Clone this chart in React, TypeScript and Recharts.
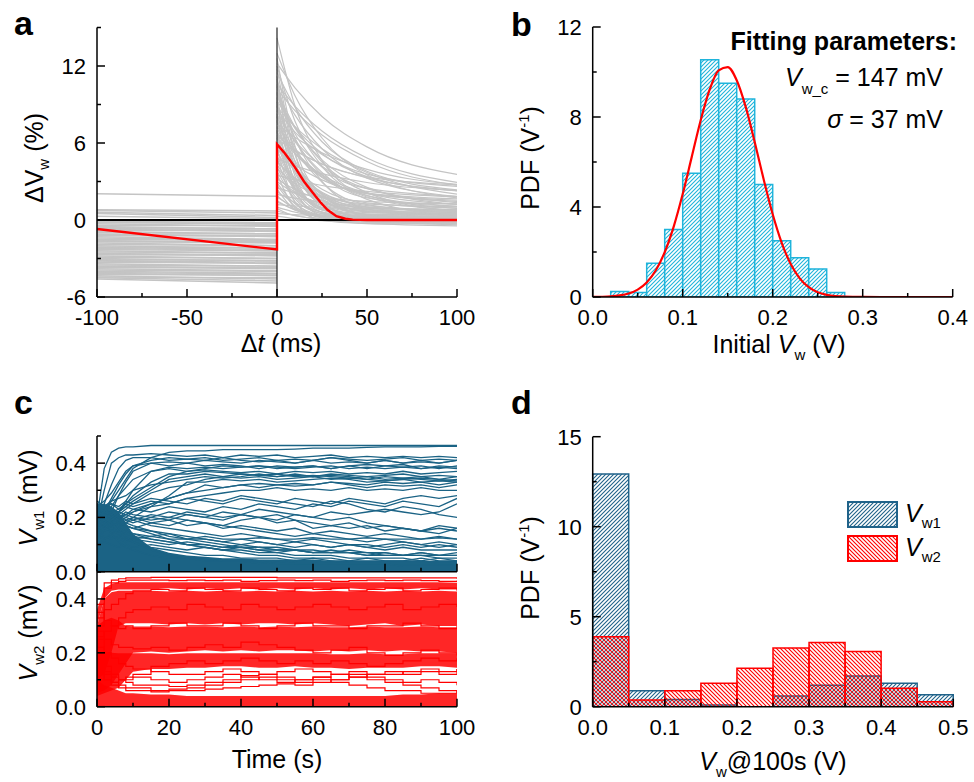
import React from "react";
import { ComposedChart, LineChart, Line, Bar, Area, XAxis, YAxis, ReferenceLine } from "recharts";

const W = 974;
const H = 782;
const FONT = '"Liberation Sans", Arial, Helvetica, sans-serif';
const YW = 60;
const XH = 40;

const GRAY = "#c4c4c4";
const RED = "#ff0000";
const CYAN = "#1fb4db";
const BLUE_C = "#1b6385";
const BLUE_D = "#1f6289";

// ---------- panel a : ΔVw vs Δt ----------
const aXTicks = [-100, -75, -50, -25, 0, 25, 50, 75, 100];
const aXLabels = [-100, -50, 0, 50, 100];
const aYTicks = [-6, -3, 0, 3, 6, 9, 12, 15];
const aYLabels = [-6, 0, 6, 12];

// [value at -100 ms, value at 0 ms]
const aLeftTraces = [
  [2.05, 1.85], [0.8, 0.7], [0.75, 0.55], [0.6, 0.35], [0.5, 0.2], [0.3, 0.1],
  [-0.1, -0.2], [-0.15, -0.35], [-0.2, -0.25], [-0.3, -0.5], [-0.4, -0.45], [-0.5, -0.7], [-0.6, -0.65],
  [-0.65, -0.8], [-0.7, -0.9], [-0.8, -0.85], [-0.9, -1.1], [-1.0, -1.05], [-1.1, -1.3], [-1.15, -1.2], [-1.2, -1.25],
  [-1.3, -1.5], [-1.4, -1.55], [-1.5, -1.6], [-1.6, -1.8], [-1.65, -1.7], [-1.7, -1.75], [-1.8, -2.0],
  [-1.9, -2.0], [-2.0, -2.2], [-2.1, -2.15], [-2.15, -2.3], [-2.2, -2.4], [-2.3, -2.4], [-2.4, -2.6],
  [-2.5, -2.55], [-2.6, -2.8], [-2.65, -2.7], [-2.7, -2.75], [-2.8, -3.0], [-2.9, -3.0], [-3.0, -3.2],
  [-3.1, -3.15], [-3.15, -3.3], [-3.2, -3.4], [-3.3, -3.35], [-3.4, -3.6], [-3.5, -3.6], [-3.6, -3.8],
  [-3.65, -3.7], [-3.7, -3.75], [-3.8, -3.95], [-3.9, -4.0], [-4.0, -4.15], [-4.1, -4.2], [-4.15, -4.35],
  [-4.25, -4.3], [-4.35, -4.6], [-4.45, -4.5], [-4.5, -4.75], [-4.6, -4.9],
];

const aRightTimes = [0, 10, 25, 50, 100];
const aRightTraces = [
  [14.2, 8.9, 4.65, 1.9, 0.9], [12.2, 10.3, 8.07, 5.7, 3.55], [12.0, 7.7, 4.2, 1.9, 1.07],
  [11.5, 8.8, 6.1, 3.8, 2.34], [11.0, 5.07, 1.81, 0.66, 0.5], [10.8, 8.17, 5.55, 3.26, 1.83],
  [10.5, 6.37, 3.01, 0.86, 0.07], [10.2, 8.52, 6.62, 4.56, 2.71], [10.0, 7.25, 4.52, 2.13, 0.65],
  [9.8, 6.34, 3.53, 1.72, 1.06], [9.5, 4.13, 1.19, 0.15, 0.0], [9.3, 7.23, 5.18, 3.38, 2.26],
  [9.0, 5.66, 2.94, 1.2, 0.56], [8.8, 7.28, 5.56, 3.7, 2.02], [8.5, 6.1, 3.7, 1.61, 0.31],
  [8.3, 4.06, 1.74, 0.92, 0.8], [8.0, 5.45, 3.37, 2.03, 1.54], [7.8, 4.62, 2.02, 0.36, -0.25],
  [7.5, 6.44, 5.24, 3.94, 2.77], [7.3, 5.38, 3.46, 1.79, 0.74], [7.0, 3.05, 0.88, 0.11, 0.0],
  [6.8, 5.16, 3.52, 2.1, 1.21], [6.5, 4.06, 2.08, 0.81, 0.34], [6.3, 5.4, 4.38, 3.28, 2.29],
  [6.0, 2.5, 0.58, -0.1, -0.2], [5.8, 3.8, 2.16, 1.12, 0.73], [5.5, 4.31, 3.13, 2.09, 1.45],
  [5.3, 3.22, 1.52, 0.43, 0.04], [5.0, 2.4, 0.98, 0.47, 0.4], [4.8, 4.24, 3.61, 2.92, 2.3],
  [4.5, 3.28, 2.07, 1.01, 0.35], [4.3, 2.45, 0.95, -0.01, -0.37], [4.0, 2.82, 1.86, 1.25, 1.02],
  [3.8, 1.65, 0.48, 0.06, 0.0], [3.5, 3.12, 2.69, 2.23, 1.8], [3.2, 2.38, 1.56, 0.85, 0.4],
  [3.0, 2.06, 1.29, 0.8, 0.62], [2.7, 1.06, 0.16, -0.15, -0.2], [2.5, 2.13, 1.77, 1.45, 1.25],
  [2.2, 1.34, 0.63, 0.18, 0.01], [2.0, 1.7, 1.36, 0.99, 0.66], [1.8, 0.97, 0.3, -0.13, -0.29],
  [1.5, 0.77, 0.36, 0.22, 0.2], [1.2, 1.09, 0.97, 0.88, 0.81], [1.0, 0.61, 0.29, 0.08, 0.0],
  [0.7, 0.36, 0.02, -0.27, -0.46], [0.5, 0.42, 0.36, 0.32, 0.3], [0.3, 0.1, -0.06, -0.16, -0.2],
  [13.0, 9.69, 6.39, 3.51, 1.72], [11.8, 5.25, 1.65, 0.38, 0.2], [10.6, 8.88, 6.94, 4.83, 2.93],
  [9.6, 7.14, 4.68, 2.54, 1.21], [8.6, 6.85, 5.1, 3.57, 2.62], [7.6, 5.24, 3.32, 2.09, 1.64],
  [6.6, 5.47, 4.34, 3.36, 2.74],
  [11.2, 3.43, 0.78, 0.32, 0.3], [10.4, 4.52, 1.3, 0.16, 0.0], [9.2, 2.93, 0.79, 0.42, 0.4],
  [8.9, 3.93, 1.2, 0.24, 0.1], [8.1, 2.32, 0.36, 0.02, 0.0], [7.7, 3.69, 1.49, 0.71, 0.6],
  [7.2, 4.29, 1.92, 0.41, -0.15], [6.9, 2.12, 0.49, 0.21, 0.2], [6.4, 2.78, 0.8, 0.1, 0.0],
  [6.1, 4.06, 2.39, 1.33, 0.93], [5.7, 1.42, -0.04, -0.29, -0.3], [5.4, 2.63, 1.11, 0.58, 0.5],
  [4.9, 1.41, 0.22, 0.01, 0.0], [4.6, 3.07, 1.82, 1.02, 0.73], [4.1, 1.84, 0.6, 0.16, 0.1],
  [3.6, 0.96, 0.06, -0.09, -0.1], [3.3, 2.16, 1.23, 0.64, 0.42], [2.9, 1.26, 0.36, 0.04, 0.0],
  [2.4, 0.83, 0.3, 0.2, 0.2], [1.9, 0.83, 0.24, 0.03, 0.0], [1.4, 0.81, 0.33, 0.02, -0.09],
  [0.9, 0.33, 0.14, 0.1, 0.1], [12.6, 5.76, 2.01, 0.69, 0.5], [9.9, 6.72, 4.12, 2.46, 1.85],
  [8.2, 6.19, 4.19, 2.44, 1.36],
];

const aRedTimes = [-100, 0, 0, 1, 4, 7, 10, 15, 20, 24, 28, 33, 38, 42, 50, 100];
const aRedValues = [-0.7, -2.3, 5.9, 5.75, 5.25, 4.7, 4.1, 3.0, 2.1, 1.4, 0.8, 0.3, 0.1, 0.03, 0, 0];

// ---------- panel b : initial Vw histogram ----------
const bBinLeft = [0, 0.02, 0.04, 0.06, 0.08, 0.1, 0.12, 0.14, 0.16, 0.18, 0.2, 0.22, 0.24, 0.26, 0.28, 0.3, 0.32, 0.34, 0.36, 0.38];
const bBinPdf = [0, 0.25, 0.2, 1.5, 3.0, 5.5, 10.55, 9.5, 8.8, 5.0, 2.5, 1.74, 1.25, 0.2, 0, 0, 0, 0, 0, 0];
const bFitX = [
  0, 0.01, 0.02, 0.03, 0.04, 0.05, 0.06, 0.07, 0.08, 0.09, 0.1, 0.11, 0.12, 0.13, 0.14, 0.15, 0.16, 0.17, 0.18, 0.19, 0.2,
  0.21, 0.22, 0.23, 0.24, 0.25, 0.26, 0.27, 0.28, 0.29, 0.3, 0.32, 0.34, 0.36, 0.38, 0.4,
];
const bFitY = [
  0.004, 0.011, 0.028, 0.069, 0.157, 0.33, 0.646, 1.176, 1.99, 3.13, 4.575, 6.217, 7.854, 9.223, 10.07, 10.22, 9.635, 8.45,
  6.887, 5.217, 3.675, 2.406, 1.464, 0.828, 0.436, 0.213, 0.097, 0.041, 0.016, 0.006, 0.002, 0, 0, 0, 0, 0,
];
const bXTicks = [0, 0.05, 0.1, 0.15, 0.2, 0.25, 0.3, 0.35, 0.4];
const bXLabels = [0, 0.1, 0.2, 0.3, 0.4];
const bYTicks = [0, 2, 4, 6, 8, 10, 12];
const bYLabels = [0, 4, 8, 12];

// ---------- panel c : Vw1 / Vw2 vs time ----------
const cTimes = [0, 2, 4, 6, 8, 10, 15, 20, 25, 30, 35, 40, 45, 50, 55, 60, 65, 70, 75, 80, 85, 90, 95, 100];
const cXTicks = [0, 10, 20, 30, 40, 50, 60, 70, 80, 90, 100];
const cXLabels = [0, 20, 40, 60, 80, 100];
const cYTicks = [0, 0.1, 0.2, 0.3, 0.4, 0.5];
const cYLabels = [0, 0.2, 0.4];

const vw1Traces = [
  [0.20, 0.38, 0.44, 0.455, 0.46, 0.46, 0.465, 0.465, 0.465, 0.465, 0.465, 0.465, 0.465, 0.465, 0.465, 0.465, 0.465, 0.465, 0.465, 0.465, 0.465, 0.465, 0.465, 0.465],
  [0.18, 0.30, 0.40, 0.42, 0.43, 0.43, 0.435, 0.43, 0.425, 0.43, 0.42, 0.43, 0.425, 0.43, 0.42, 0.425, 0.43, 0.42, 0.425, 0.42, 0.425, 0.42, 0.425, 0.42],
  [0.22, 0.25, 0.32, 0.38, 0.41, 0.42, 0.42, 0.41, 0.415, 0.41, 0.42, 0.41, 0.405, 0.41, 0.40, 0.41, 0.42, 0.41, 0.40, 0.41, 0.40, 0.41, 0.40, 0.41],
  [0.15, 0.18, 0.22, 0.28, 0.33, 0.37, 0.40, 0.39, 0.40, 0.39, 0.395, 0.39, 0.38, 0.39, 0.385, 0.39, 0.38, 0.39, 0.38, 0.39, 0.395, 0.38, 0.39, 0.385],
  [0.20, 0.22, 0.26, 0.30, 0.34, 0.38, 0.42, 0.44, 0.445, 0.445, 0.45, 0.45, 0.45, 0.45, 0.452, 0.455, 0.455, 0.455, 0.458, 0.46, 0.46, 0.46, 0.462, 0.462],
  [0.12, 0.15, 0.18, 0.22, 0.26, 0.30, 0.37, 0.38, 0.37, 0.375, 0.37, 0.365, 0.37, 0.36, 0.37, 0.365, 0.37, 0.36, 0.365, 0.36, 0.37, 0.36, 0.365, 0.37],
  [0.20, 0.18, 0.20, 0.22, 0.24, 0.26, 0.30, 0.34, 0.35, 0.36, 0.35, 0.36, 0.355, 0.35, 0.36, 0.35, 0.355, 0.35, 0.34, 0.35, 0.345, 0.35, 0.34, 0.35],
  [0.10, 0.12, 0.14, 0.16, 0.18, 0.20, 0.24, 0.28, 0.33, 0.33, 0.34, 0.335, 0.34, 0.33, 0.335, 0.34, 0.345, 0.34, 0.33, 0.335, 0.34, 0.33, 0.335, 0.33],
  [0.18, 0.16, 0.18, 0.20, 0.21, 0.22, 0.25, 0.27, 0.29, 0.32, 0.31, 0.32, 0.325, 0.32, 0.315, 0.32, 0.33, 0.32, 0.31, 0.32, 0.315, 0.32, 0.31, 0.32],
  [0.20, 0.19, 0.17, 0.18, 0.20, 0.22, 0.24, 0.25, 0.27, 0.28, 0.29, 0.30, 0.30, 0.31, 0.30, 0.305, 0.30, 0.31, 0.30, 0.305, 0.30, 0.31, 0.30, 0.30],
  [0.22, 0.21, 0.23, 0.22, 0.24, 0.23, 0.22, 0.24, 0.23, 0.22, 0.24, 0.23, 0.25, 0.24, 0.23, 0.25, 0.24, 0.26, 0.25, 0.24, 0.26, 0.25, 0.24, 0.27],
  [0.20, 0.22, 0.21, 0.20, 0.22, 0.21, 0.20, 0.22, 0.21, 0.20, 0.19, 0.21, 0.20, 0.18, 0.19, 0.18, 0.17, 0.18, 0.16, 0.17, 0.16, 0.15, 0.16, 0.15],
  [0.25, 0.24, 0.25, 0.23, 0.25, 0.24, 0.26, 0.25, 0.27, 0.26, 0.25, 0.27, 0.26, 0.25, 0.27, 0.26, 0.25, 0.27, 0.26, 0.25, 0.27, 0.28, 0.27, 0.28],
  [0.18, 0.20, 0.19, 0.21, 0.20, 0.19, 0.21, 0.20, 0.22, 0.21, 0.20, 0.21, 0.20, 0.21, 0.19, 0.16, 0.17, 0.16, 0.17, 0.15, 0.16, 0.15, 0.17, 0.16],
  [0.15, 0.17, 0.16, 0.18, 0.17, 0.16, 0.18, 0.17, 0.19, 0.18, 0.17, 0.19, 0.20, 0.19, 0.21, 0.20, 0.22, 0.21, 0.22, 0.23, 0.22, 0.21, 0.22, 0.25],
  [0.14, 0.13, 0.12, 0.13, 0.12, 0.12, 0.13, 0.12, 0.12, 0.13, 0.12, 0.12, 0.125, 0.12, 0.12, 0.125, 0.12, 0.12, 0.125, 0.12, 0.12, 0.12, 0.125, 0.12],
  [0.10, 0.11, 0.10, 0.09, 0.10, 0.09, 0.10, 0.09, 0.08, 0.09, 0.08, 0.09, 0.08, 0.07, 0.08, 0.07, 0.08, 0.07, 0.06, 0.07, 0.06, 0.07, 0.06, 0.07],
  [0.13, 0.12, 0.13, 0.12, 0.11, 0.12, 0.11, 0.10, 0.11, 0.10, 0.09, 0.10, 0.11, 0.10, 0.09, 0.10, 0.09, 0.10, 0.09, 0.10, 0.11, 0.10, 0.09, 0.10],
  [0.24, 0.20, 0.16, 0.14, 0.12, 0.11, 0.09, 0.08, 0.07, 0.06, 0.06, 0.05, 0.05, 0.05, 0.04, 0.05, 0.04, 0.04, 0.05, 0.04, 0.04, 0.05, 0.04, 0.04],
  [0.22, 0.18, 0.14, 0.11, 0.09, 0.08, 0.06, 0.05, 0.05, 0.04, 0.04, 0.04, 0.03, 0.04, 0.03, 0.03, 0.04, 0.03, 0.03, 0.03, 0.03, 0.03, 0.03, 0.03],
  [0.26, 0.24, 0.22, 0.20, 0.18, 0.17, 0.15, 0.14, 0.12, 0.11, 0.10, 0.09, 0.09, 0.08, 0.08, 0.07, 0.07, 0.07, 0.06, 0.06, 0.06, 0.06, 0.05, 0.05],
  [0.19, 0.21, 0.20, 0.19, 0.18, 0.19, 0.17, 0.16, 0.15, 0.14, 0.13, 0.14, 0.13, 0.12, 0.11, 0.12, 0.11, 0.10, 0.10, 0.09, 0.10, 0.09, 0.10, 0.09],
  [0.21, 0.19, 0.20, 0.18, 0.17, 0.16, 0.15, 0.13, 0.12, 0.12, 0.11, 0.10, 0.09, 0.09, 0.08, 0.08, 0.07, 0.08, 0.07, 0.07, 0.06, 0.07, 0.06, 0.06],
  [0.17, 0.15, 0.16, 0.15, 0.14, 0.13, 0.12, 0.11, 0.10, 0.09, 0.08, 0.08, 0.07, 0.07, 0.06, 0.06, 0.06, 0.05, 0.05, 0.05, 0.05, 0.04, 0.05, 0.04],
  [0.23, 0.22, 0.20, 0.21, 0.19, 0.20, 0.18, 0.19, 0.17, 0.18, 0.16, 0.17, 0.16, 0.15, 0.16, 0.14, 0.15, 0.14, 0.13, 0.14, 0.13, 0.12, 0.13, 0.12],
  [0.20, 0.24, 0.26, 0.27, 0.28, 0.30, 0.32, 0.33, 0.34, 0.35, 0.345, 0.35, 0.36, 0.35, 0.355, 0.35, 0.36, 0.355, 0.35, 0.355, 0.36, 0.35, 0.355, 0.35],
  [0.16, 0.20, 0.24, 0.28, 0.31, 0.34, 0.37, 0.385, 0.38, 0.385, 0.38, 0.385, 0.39, 0.385, 0.38, 0.385, 0.39, 0.38, 0.385, 0.38, 0.385, 0.38, 0.385, 0.38],
  [0.24, 0.26, 0.29, 0.33, 0.37, 0.39, 0.40, 0.405, 0.40, 0.41, 0.405, 0.40, 0.41, 0.405, 0.40, 0.41, 0.40, 0.405, 0.40, 0.41, 0.40, 0.405, 0.40, 0.41],
  [0.21, 0.23, 0.25, 0.24, 0.26, 0.25, 0.27, 0.26, 0.25, 0.27, 0.26, 0.28, 0.27, 0.26, 0.25, 0.24, 0.26, 0.25, 0.23, 0.22, 0.24, 0.23, 0.21, 0.20],
  [0.16, 0.17, 0.18, 0.17, 0.19, 0.18, 0.20, 0.19, 0.21, 0.20, 0.22, 0.21, 0.23, 0.22, 0.21, 0.20, 0.19, 0.20, 0.18, 0.17, 0.16, 0.15, 0.14, 0.16],
  [0.25, 0.23, 0.21, 0.19, 0.17, 0.16, 0.14, 0.12, 0.10, 0.09, 0.08, 0.07, 0.06, 0.06, 0.05, 0.05, 0.05, 0.04, 0.04, 0.04, 0.04, 0.04, 0.03, 0.03],
  [0.18, 0.19, 0.17, 0.16, 0.15, 0.14, 0.12, 0.11, 0.10, 0.10, 0.09, 0.09, 0.08, 0.08, 0.08, 0.07, 0.07, 0.07, 0.07, 0.06, 0.06, 0.06, 0.06, 0.06],
  [0.23, 0.20, 0.18, 0.15, 0.13, 0.11, 0.08, 0.06, 0.05, 0.05, 0.04, 0.04, 0.04, 0.03, 0.03, 0.03, 0.03, 0.03, 0.03, 0.03, 0.02, 0.02, 0.02, 0.02],
  [0.14, 0.16, 0.15, 0.14, 0.15, 0.14, 0.13, 0.14, 0.13, 0.12, 0.11, 0.12, 0.11, 0.10, 0.11, 0.10, 0.09, 0.10, 0.09, 0.08, 0.09, 0.08, 0.08, 0.08],
  [0.21, 0.22, 0.21, 0.20, 0.21, 0.20, 0.19, 0.20, 0.19, 0.18, 0.17, 0.16, 0.15, 0.14, 0.13, 0.14, 0.13, 0.12, 0.11, 0.12, 0.11, 0.10, 0.11, 0.10],
  [0.19, 0.22, 0.27, 0.32, 0.36, 0.39, 0.41, 0.42, 0.415, 0.42, 0.41, 0.415, 0.42, 0.41, 0.415, 0.41, 0.42, 0.415, 0.41, 0.415, 0.42, 0.41, 0.415, 0.41],
  [0.15, 0.17, 0.19, 0.21, 0.23, 0.25, 0.29, 0.31, 0.32, 0.34, 0.35, 0.345, 0.35, 0.34, 0.345, 0.35, 0.34, 0.345, 0.34, 0.335, 0.34, 0.345, 0.34, 0.335],
  [0.22, 0.21, 0.22, 0.23, 0.25, 0.27, 0.31, 0.35, 0.37, 0.38, 0.39, 0.385, 0.39, 0.38, 0.385, 0.39, 0.38, 0.39, 0.395, 0.39, 0.385, 0.39, 0.38, 0.39],
  [0.17, 0.18, 0.20, 0.22, 0.25, 0.28, 0.33, 0.36, 0.36, 0.37, 0.365, 0.36, 0.355, 0.36, 0.35, 0.355, 0.35, 0.345, 0.35, 0.34, 0.345, 0.34, 0.335, 0.34],
  [0.20, 0.21, 0.20, 0.22, 0.21, 0.23, 0.25, 0.27, 0.29, 0.30, 0.31, 0.32, 0.31, 0.32, 0.325, 0.32, 0.33, 0.325, 0.32, 0.33, 0.325, 0.33, 0.32, 0.33],
];
const vw1DenseLow = [0, 0, 0, 0, 0, 0, 0, 0, 0, 0, 0, 0, 0, 0, 0, 0, 0, 0, 0, 0, 0, 0, 0, 0];
const vw1DenseHigh = [0.25, 0.25, 0.24, 0.22, 0.18, 0.14, 0.09, 0.07, 0.06, 0.055, 0.05, 0.05, 0.045, 0.045, 0.045, 0.045, 0.04, 0.04, 0.04, 0.04, 0.04, 0.04, 0.04, 0.04];

const vw2Traces = [
  [0.38, 0.46, 0.47, 0.475, 0.478, 0.478, 0.48, 0.48, 0.48, 0.48, 0.48, 0.48, 0.48, 0.478, 0.478, 0.478, 0.478, 0.478, 0.478, 0.478, 0.478, 0.478, 0.478, 0.475],
  [0.30, 0.44, 0.46, 0.465, 0.47, 0.47, 0.47, 0.468, 0.47, 0.468, 0.47, 0.465, 0.468, 0.47, 0.468, 0.47, 0.465, 0.468, 0.47, 0.468, 0.47, 0.468, 0.465, 0.468],
  [0.20, 0.12, 0.09, 0.08, 0.07, 0.07, 0.06, 0.065, 0.07, 0.08, 0.09, 0.10, 0.11, 0.10, 0.09, 0.10, 0.09, 0.08, 0.07, 0.06, 0.06, 0.05, 0.05, 0.06],
  [0.22, 0.15, 0.12, 0.10, 0.09, 0.08, 0.08, 0.075, 0.08, 0.09, 0.10, 0.115, 0.12, 0.11, 0.10, 0.11, 0.12, 0.11, 0.10, 0.09, 0.08, 0.07, 0.06, 0.05],
  [0.15, 0.10, 0.08, 0.07, 0.06, 0.06, 0.055, 0.06, 0.06, 0.065, 0.07, 0.075, 0.08, 0.085, 0.08, 0.09, 0.10, 0.11, 0.12, 0.13, 0.12, 0.13, 0.12, 0.14],
  [0.25, 0.20, 0.18, 0.16, 0.15, 0.14, 0.13, 0.12, 0.12, 0.13, 0.14, 0.13, 0.12, 0.13, 0.14, 0.13, 0.12, 0.13, 0.12, 0.12, 0.13, 0.14, 0.13, 0.14],
  [0.28, 0.25, 0.23, 0.22, 0.22, 0.215, 0.22, 0.21, 0.22, 0.23, 0.22, 0.24, 0.23, 0.22, 0.21, 0.20, 0.21, 0.22, 0.20, 0.19, 0.20, 0.21, 0.20, 0.19],
  [0.35, 0.32, 0.30, 0.29, 0.30, 0.29, 0.30, 0.31, 0.30, 0.30, 0.31, 0.30, 0.29, 0.30, 0.31, 0.30, 0.30, 0.29, 0.30, 0.30, 0.31, 0.30, 0.29, 0.30],
  [0.12, 0.10, 0.09, 0.10, 0.11, 0.12, 0.15, 0.16, 0.17, 0.16, 0.17, 0.18, 0.17, 0.16, 0.17, 0.16, 0.17, 0.16, 0.15, 0.16, 0.17, 0.18, 0.17, 0.18],
  [0.33, 0.36, 0.38, 0.40, 0.42, 0.43, 0.435, 0.43, 0.44, 0.435, 0.43, 0.44, 0.435, 0.43, 0.44, 0.435, 0.44, 0.43, 0.435, 0.44, 0.43, 0.435, 0.44, 0.43],
  [0.26, 0.28, 0.30, 0.33, 0.35, 0.36, 0.37, 0.36, 0.38, 0.37, 0.36, 0.38, 0.37, 0.36, 0.37, 0.38, 0.37, 0.36, 0.37, 0.38, 0.36, 0.37, 0.38, 0.37],
  [0.18, 0.13, 0.11, 0.10, 0.10, 0.11, 0.10, 0.09, 0.10, 0.11, 0.12, 0.11, 0.10, 0.09, 0.10, 0.11, 0.10, 0.12, 0.11, 0.10, 0.09, 0.10, 0.09, 0.08],
];
const vw2TopLow = [0.30, 0.40, 0.43, 0.435, 0.435, 0.435, 0.435, 0.44, 0.435, 0.44, 0.435, 0.44, 0.435, 0.44, 0.435, 0.44, 0.435, 0.44, 0.435, 0.44, 0.435, 0.44, 0.435, 0.435];
const vw2TopHigh = [0.36, 0.44, 0.455, 0.462, 0.462, 0.462, 0.462, 0.462, 0.462, 0.462, 0.462, 0.462, 0.462, 0.462, 0.462, 0.462, 0.462, 0.462, 0.462, 0.462, 0.462, 0.462, 0.462, 0.46];
const vw2UpperLow = [0.10, 0.12, 0.20, 0.30, 0.31, 0.31, 0.31, 0.305, 0.31, 0.305, 0.31, 0.305, 0.31, 0.31, 0.305, 0.31, 0.305, 0.30, 0.305, 0.31, 0.30, 0.305, 0.30, 0.30];
const vw2UpperHigh = [0.30, 0.40, 0.425, 0.43, 0.43, 0.43, 0.43, 0.428, 0.43, 0.428, 0.43, 0.428, 0.43, 0.428, 0.43, 0.428, 0.43, 0.428, 0.43, 0.428, 0.43, 0.428, 0.43, 0.428];
const vw2MidLow = [0.05, 0.06, 0.08, 0.12, 0.16, 0.20, 0.205, 0.20, 0.205, 0.21, 0.205, 0.21, 0.205, 0.21, 0.21, 0.205, 0.21, 0.205, 0.21, 0.205, 0.21, 0.205, 0.205, 0.20];
const vw2MidHigh = [0.30, 0.32, 0.33, 0.32, 0.30, 0.298, 0.298, 0.295, 0.298, 0.298, 0.295, 0.298, 0.295, 0.298, 0.295, 0.298, 0.295, 0.295, 0.298, 0.295, 0.295, 0.298, 0.295, 0.295];
const vw2LowLow = [0.04, 0.05, 0.06, 0.07, 0.10, 0.13, 0.14, 0.14, 0.145, 0.145, 0.15, 0.15, 0.145, 0.145, 0.15, 0.145, 0.145, 0.14, 0.145, 0.145, 0.145, 0.15, 0.15, 0.145];
const vw2LowHigh = [0.20, 0.20, 0.20, 0.198, 0.198, 0.198, 0.198, 0.195, 0.198, 0.198, 0.198, 0.198, 0.198, 0.198, 0.198, 0.198, 0.195, 0.195, 0.198, 0.195, 0.195, 0.198, 0.198, 0.198];
const vw2FloorLow = [0, 0, 0, 0, 0, 0, 0, 0, 0, 0, 0, 0, 0, 0, 0, 0, 0, 0, 0, 0, 0, 0, 0, 0];
const vw2FloorHigh = [0.10, 0.08, 0.07, 0.06, 0.05, 0.05, 0.045, 0.045, 0.04, 0.04, 0.04, 0.04, 0.04, 0.04, 0.04, 0.04, 0.04, 0.04, 0.04, 0.04, 0.045, 0.045, 0.05, 0.05];

// ---------- panel d : Vw @ 100 s histogram ----------
const dBinLeft = [0, 0.05, 0.1, 0.15, 0.2, 0.25, 0.3, 0.35, 0.4, 0.45];
const dVw1 = [12.93, 0.89, 0.4, 0.1, 0, 0.6, 1.19, 1.7, 1.3, 0.67];
const dVw2 = [3.89, 0.37, 0.89, 1.3, 2.13, 3.26, 3.57, 3.07, 1.02, 0.28];
const dXTicks = [0, 0.05, 0.1, 0.15, 0.2, 0.25, 0.3, 0.35, 0.4, 0.45, 0.5];
const dXLabels = [0, 0.1, 0.2, 0.3, 0.4, 0.5];
const dYTicks = [0, 2.5, 5, 7.5, 10, 12.5, 15];
const dYLabels = [0, 5, 10, 15];

// ---------- derived tables ----------
const aLeftData = aLeftTraces.map((p) => [{ t: -100, v: p[0] }, { t: 0, v: p[1] }]);
const aRightData = aRightTraces.map((tr) => tr.map((v, i) => ({ t: aRightTimes[i], v })));
const aRedData = aRedTimes.map((t, i) => ({ t, v: aRedValues[i] }));

const bRows = bBinLeft.map((x, i) => ({ bin: String(i), x, pdf: bBinPdf[i] }));
const bFit = bFitX.map((x, i) => ({ x, y: bFitY[i] }));

const vw2Bands: [string, number[], number[]][] = [
  ["top", vw2TopLow, vw2TopHigh],
  ["upper", vw2UpperLow, vw2UpperHigh],
  ["mid", vw2MidLow, vw2MidHigh],
  ["low", vw2LowLow, vw2LowHigh],
  ["floor", vw2FloorLow, vw2FloorHigh],
];

const cRows = cTimes.map((t, i) => {
  const row: Record<string, any> = { t };
  vw1Traces.forEach((tr, k) => (row[`b${k}`] = tr[i]));
  vw2Traces.forEach((tr, k) => (row[`r${k}`] = tr[i]));
  row.vw1Dense = [vw1DenseLow[i], vw1DenseHigh[i]];
  vw2Bands.forEach(([key, lo, hi]) => (row[`band_${key}`] = [lo[i], hi[i]]));
  return row;
});

const dRows = dBinLeft.map((x, i) => ({ bin: String(i), x, vw1: dVw1[i], vw2: dVw2[i] }));

// ---------- layout helpers ----------
type Box = { l: number; t: number; r: number; b: number };
const boxA: Box = { l: 97, t: 27.5, r: 457, b: 297 };
const boxB: Box = { l: 592.7, t: 27, r: 952.7, b: 297 };
const boxC1: Box = { l: 97, t: 436, r: 457, b: 571.7 };
const boxC2: Box = { l: 97, t: 572, r: 457, b: 706.7 };
const boxD: Box = { l: 592.7, t: 436.7, r: 953.3, b: 706.7 };

const marginOf = (bx: Box) => ({ left: bx.l - YW, top: bx.t, right: W - bx.r, bottom: H - bx.b - XH });
const near = (a: number, b: number) => Math.abs(a - b) < 1e-6;
const axisLine = { stroke: "#000", strokeWidth: 1.5 };

function xTick(labels: number[], fmt: (v: number) => string, show = true) {
  return (p: any) => {
    const v = p.payload.value;
    const major = labels.some((l) => near(l, v));
    return (
      <g>
        <line x1={p.x} x2={p.x} y1={p.y} y2={p.y - (major ? 8 : 4)} stroke="#000" strokeWidth={1.5} />
        {show && major && (
          <text x={p.x} y={p.y + 28} textAnchor="middle" fontSize={22} fontFamily={FONT} fill="#000">
            {fmt(v)}
          </text>
        )}
      </g>
    );
  };
}

function yTick(labels: number[], fmt: (v: number) => string) {
  return (p: any) => {
    const v = p.payload.value;
    const major = labels.some((l) => near(l, v));
    return (
      <g>
        <line x1={p.x} x2={p.x + (major ? 8 : 4)} y1={p.y} y2={p.y} stroke="#000" strokeWidth={1.5} />
        {major && (
          <text x={p.x - 11} y={p.y} dy="0.36em" textAnchor="end" fontSize={22} fontFamily={FONT} fill="#000">
            {fmt(v)}
          </text>
        )}
      </g>
    );
  };
}

const fix1 = (v: number) => v.toFixed(1);
const plain = (v: number) => String(v);

const xAxisCommon = {
  height: XH,
  tickSize: 0,
  tickMargin: 0,
  tickLine: false,
  axisLine,
  interval: 0 as const,
  allowDataOverflow: true,
};
const yAxisCommon = {
  width: YW,
  tickSize: 0,
  tickMargin: 0,
  tickLine: false,
  axisLine,
  interval: 0 as const,
  allowDataOverflow: true,
};

const layer: React.CSSProperties = { position: "absolute", left: 0, top: 0 };

function Hatch({ id, color, dir, bg }: { id: string; color: string; dir: "up" | "down"; bg?: string }) {
  const d = dir === "up" ? "M-1,1 l2,-2 M0,4 l4,-4 M3,5 l2,-2" : "M-1,3 l2,2 M0,0 l4,4 M3,-1 l2,2";
  return (
    <pattern id={id} patternUnits="userSpaceOnUse" width={4} height={4}>
      {bg && <rect width={4} height={4} fill={bg} />}
      <path d={d} stroke={color} strokeWidth={1.1} fill="none" />
    </pattern>
  );
}

export default function App() {
  const t: React.SVGProps<SVGTextElement> = { fontFamily: FONT, fill: "#000" };
  return (
    <div style={{ position: "absolute", left: 0, top: 0, width: W, height: H, background: "#fff", overflow: "hidden" }}>
      {/* a */}
      <div style={layer}>
        <LineChart width={W} height={H} margin={marginOf(boxA)}>
          <XAxis type="number" dataKey="t" domain={[-100, 100]} ticks={aXTicks} tick={xTick(aXLabels, plain)} {...xAxisCommon} />
          <YAxis type="number" domain={[-6, 15]} ticks={aYTicks} tick={yTick(aYLabels, plain)} {...yAxisCommon} />
          {aLeftData.map((d, i) => (
            <Line key={`al${i}`} data={d} dataKey="v" type="linear" stroke={GRAY} strokeWidth={1.5} dot={false} activeDot={false} isAnimationActive={false} />
          ))}
          {aRightData.map((d, i) => (
            <Line key={`ar${i}`} data={d} dataKey="v" type="monotone" stroke={GRAY} strokeWidth={1.2} dot={false} activeDot={false} isAnimationActive={false} />
          ))}
          <ReferenceLine x={0} stroke="#222" strokeWidth={1.2} />
          <ReferenceLine y={0} stroke="#000" strokeWidth={2} />
          <Line data={aRedData} dataKey="v" type="linear" stroke={RED} strokeWidth={2.4} dot={false} activeDot={false} isAnimationActive={false} />
        </LineChart>
      </div>

      {/* b */}
      <div style={layer}>
        <ComposedChart width={W} height={H} data={bRows} margin={marginOf(boxB)} barCategoryGap={0} barGap={0}>
          <defs>
            <Hatch id="hatchCyan" color={CYAN} dir="up" bg="#fff" />
          </defs>
          <XAxis xAxisId="num" type="number" dataKey="x" domain={[0, 0.4]} ticks={bXTicks} tick={xTick(bXLabels, fix1)} {...xAxisCommon} />
          <XAxis xAxisId="cat" dataKey="bin" hide height={0} />
          <YAxis type="number" domain={[0, 12]} ticks={bYTicks} tick={yTick(bYLabels, plain)} {...yAxisCommon} />
          <Bar xAxisId="cat" dataKey="pdf" fill="url(#hatchCyan)" stroke={CYAN} strokeWidth={1.5} isAnimationActive={false} />
          <Line xAxisId="num" data={bFit} dataKey="y" type="monotone" stroke={RED} strokeWidth={2.2} dot={false} activeDot={false} isAnimationActive={false} />
        </ComposedChart>
      </div>

      {/* c top */}
      <div style={layer}>
        <ComposedChart width={W} height={H} data={cRows} margin={marginOf(boxC1)}>
          <XAxis type="number" dataKey="t" domain={[0, 100]} ticks={cXTicks} tick={xTick(cXLabels, plain, false)} {...xAxisCommon} />
          <YAxis type="number" domain={[0, 0.5]} ticks={cYTicks} tick={yTick(cYLabels, fix1)} {...yAxisCommon} />
          <Area dataKey="vw1Dense" type="linear" stroke="none" fill={BLUE_C} fillOpacity={1} isAnimationActive={false} activeDot={false} />
          {vw1Traces.map((_, k) => (
            <Line key={`b${k}`} dataKey={`b${k}`} type="linear" stroke={BLUE_C} strokeWidth={1.3} dot={false} activeDot={false} isAnimationActive={false} />
          ))}
        </ComposedChart>
      </div>

      {/* c bottom */}
      <div style={layer}>
        <ComposedChart width={W} height={H} data={cRows} margin={marginOf(boxC2)}>
          <XAxis type="number" dataKey="t" domain={[0, 100]} ticks={cXTicks} tick={xTick(cXLabels, plain)} {...xAxisCommon} />
          <YAxis type="number" domain={[0, 0.5]} ticks={cYTicks} tick={yTick(cYLabels, fix1)} {...yAxisCommon} />
          {vw2Bands.map(([key]) => (
            <Area key={key} dataKey={`band_${key}`} type="linear" stroke="none" fill={RED} fillOpacity={0.85} isAnimationActive={false} activeDot={false} />
          ))}
          {vw2Traces.map((_, k) => (
            <Line key={`r${k}`} dataKey={`r${k}`} type="stepAfter" stroke={RED} strokeWidth={1.2} dot={false} activeDot={false} isAnimationActive={false} />
          ))}
        </ComposedChart>
      </div>

      {/* d */}
      <div style={layer}>
        <ComposedChart width={W} height={H} data={dRows} margin={marginOf(boxD)} barCategoryGap={0} barGap={0}>
          <defs>
            <Hatch id="hatchBlueD" color={BLUE_D} dir="up" bg="#fff" />
            <Hatch id="hatchRedD" color={RED} dir="down" />
          </defs>
          <XAxis xAxisId="num" type="number" dataKey="x" domain={[0, 0.5]} ticks={dXTicks} tick={xTick(dXLabels, fix1)} {...xAxisCommon} />
          <XAxis xAxisId="c1" dataKey="bin" hide height={0} />
          <XAxis xAxisId="c2" dataKey="bin" hide height={0} />
          <YAxis type="number" domain={[0, 15]} ticks={dYTicks} tick={yTick(dYLabels, plain)} {...yAxisCommon} />
          <Bar xAxisId="c1" dataKey="vw1" fill="url(#hatchBlueD)" stroke={BLUE_D} strokeWidth={1.5} isAnimationActive={false} />
          <Bar xAxisId="c2" dataKey="vw2" fill="url(#hatchRedD)" stroke={RED} strokeWidth={1.5} isAnimationActive={false} />
        </ComposedChart>
      </div>

      {/* titles, panel letters, annotations */}
      <svg width={W} height={H} style={{ ...layer, pointerEvents: "none" }}>
        <defs>
          <Hatch id="legBlue" color={BLUE_D} dir="up" bg="#fff" />
          <Hatch id="legRed" color={RED} dir="down" bg="#fff" />
        </defs>
        <text x={14} y={35} fontSize={34} fontWeight="bold" {...t}>a</text>
        <text x={511} y={36} fontSize={34} fontWeight="bold" {...t}>b</text>
        <text x={14} y={414} fontSize={34} fontWeight="bold" {...t}>c</text>
        <text x={511} y={414} fontSize={34} fontWeight="bold" {...t}>d</text>

        <text x={281} y={352} fontSize={25} textAnchor="middle" {...t}>
          Δ<tspan fontStyle="italic">t</tspan> (ms)
        </text>
        <text transform="translate(43,158) rotate(-90)" fontSize={25} textAnchor="middle" {...t}>
          ΔV<tspan fontSize={15} dy={6}>w</tspan>
          <tspan dy={-6}> (%)</tspan>
        </text>

        <text x={779} y={353} fontSize={25} textAnchor="middle" {...t}>
          Initial <tspan fontStyle="italic">V</tspan>
          <tspan fontSize={15} dy={7}>w</tspan>
          <tspan dy={-7}> (V)</tspan>
        </text>
        <text transform="translate(539,158) rotate(-90)" fontSize={25} textAnchor="middle" {...t}>
          PDF (V<tspan fontSize={15} dy={-10}>-1</tspan>
          <tspan dy={10}>)</tspan>
        </text>
        <text x={957} y={50} fontSize={25} fontWeight="bold" textAnchor="end" {...t}>Fitting parameters:</text>
        <text x={943} y={86} fontSize={25} textAnchor="end" {...t}>
          <tspan fontStyle="italic">V</tspan>
          <tspan fontSize={15} dy={8}>w_c</tspan>
          <tspan dy={-8}> = 147 mV</tspan>
        </text>
        <text x={943} y={128} fontSize={25} textAnchor="end" {...t}>
          <tspan fontStyle="italic">σ</tspan> = 37 mV
        </text>

        <text x={277} y={768} fontSize={25} textAnchor="middle" {...t}>Time (s)</text>
        <text transform="translate(37,498) rotate(-90)" fontSize={25} textAnchor="middle" {...t}>
          <tspan fontStyle="italic">V</tspan>
          <tspan fontSize={15} dy={7}>w1</tspan>
          <tspan dy={-7}> (mV)</tspan>
        </text>
        <text transform="translate(37,633) rotate(-90)" fontSize={25} textAnchor="middle" {...t}>
          <tspan fontStyle="italic">V</tspan>
          <tspan fontSize={15} dy={7}>w2</tspan>
          <tspan dy={-7}> (mV)</tspan>
        </text>

        <text x={773} y={770} fontSize={25} textAnchor="middle" {...t}>
          <tspan fontStyle="italic">V</tspan>
          <tspan fontSize={15} dy={7}>w</tspan>
          <tspan dy={-7}>@100s (V)</tspan>
        </text>
        <text transform="translate(539,568) rotate(-90)" fontSize={25} textAnchor="middle" {...t}>
          PDF (V<tspan fontSize={15} dy={-10}>-1</tspan>
          <tspan dy={10}>)</tspan>
        </text>

        <rect x={848} y={502} width={49} height={25} fill="url(#legBlue)" stroke={BLUE_D} strokeWidth={2} />
        <rect x={848} y={536} width={49} height={25} fill="url(#legRed)" stroke={RED} strokeWidth={2} />
        <text x={905} y={522} fontSize={25} {...t}>
          <tspan fontStyle="italic">V</tspan>
          <tspan fontSize={15} dy={6}>w1</tspan>
        </text>
        <text x={905} y={556} fontSize={25} {...t}>
          <tspan fontStyle="italic">V</tspan>
          <tspan fontSize={15} dy={6}>w2</tspan>
        </text>
      </svg>
    </div>
  );
}
